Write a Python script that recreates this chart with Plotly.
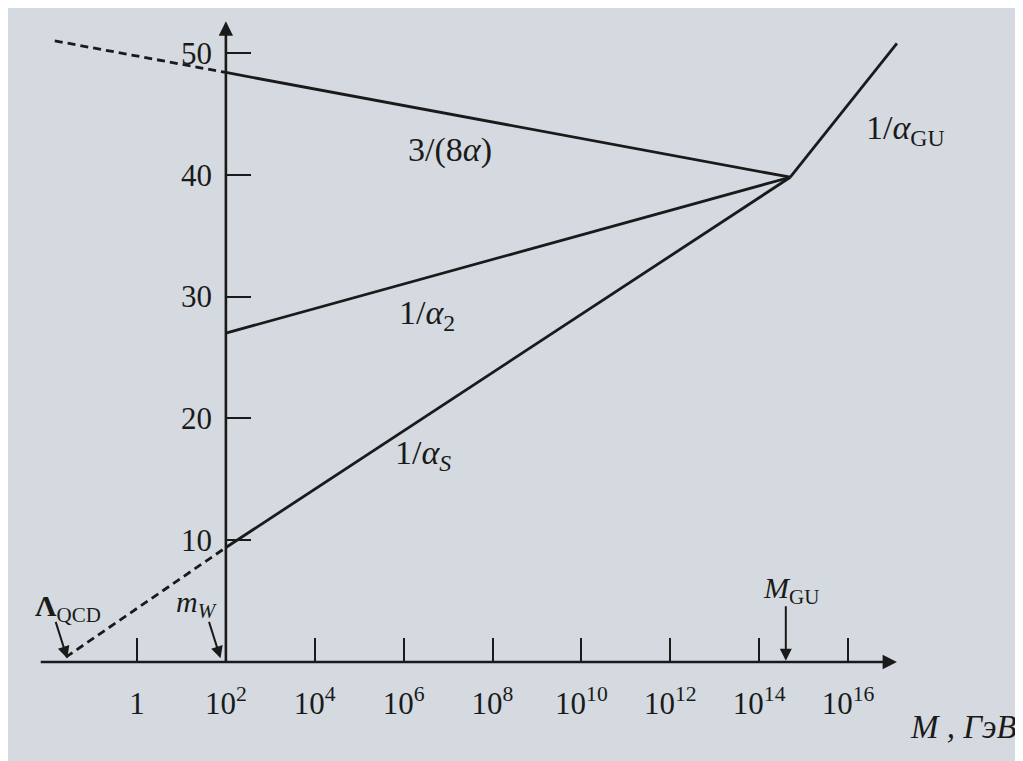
import plotly.graph_objects as go

# x is log10(M / GeV), y is the inverse coupling
x_ticks = [0, 2, 4, 6, 8, 10, 12, 14, 16]
x_tick_text = ["1", "10<sup>2</sup>", "10<sup>4</sup>", "10<sup>6</sup>", "10<sup>8</sup>",
               "10<sup>10</sup>", "10<sup>12</sup>", "10<sup>14</sup>", "10<sup>16</sup>"]
y_ticks = [10, 20, 30, 40, 50]

log_mw = 2.0
log_mgu = 14.7
log_lambda = -1.6
inv_alpha_gu_at_mgu = 39.8

# 3/(8 alpha)
em_x = [log_mw, log_mgu]
em_y = [48.4, inv_alpha_gu_at_mgu]
em_dash_x = [-1.85, log_mw]
em_dash_y = [51.0, 48.4]

# 1/alpha_2
a2_x = [log_mw, log_mgu]
a2_y = [27.0, inv_alpha_gu_at_mgu]

# 1/alpha_s
as_x = [log_mw, log_mgu]
as_y = [9.4, inv_alpha_gu_at_mgu]
as_dash_x = [log_lambda, log_mw]
as_dash_y = [0.4, 9.4]

# 1/alpha_GU above unification
gu_x = [log_mgu, 17.1]
gu_y = [inv_alpha_gu_at_mgu, 50.8]

ink = "#1a1a1a"
page = "#d4dae0"
serif = "Liberation Serif"

fig = go.Figure()

for xs, ys in [(em_x, em_y), (a2_x, a2_y), (as_x, as_y), (gu_x, gu_y)]:
    fig.add_trace(go.Scatter(x=xs, y=ys, mode="lines",
                             line=dict(color=ink, width=2.8), hoverinfo="skip"))

for xs, ys in [(em_dash_x, em_dash_y), (as_dash_x, as_dash_y)]:
    fig.add_trace(go.Scatter(x=xs, y=ys, mode="lines",
                             line=dict(color=ink, width=2.8, dash="8px,5px"),
                             hoverinfo="skip"))

W, H = 1040, 780
x0 = -129 / 44.44
x1 = x0 + W / 44.44
y1 = 654 / 12.18
y0 = y1 - H / 12.18

# axis lines with arrows
fig.add_annotation(x=17.1, y=0, ax=-2.2, ay=0, axref="x", ayref="y", text="",
                   showarrow=True, arrowhead=2, arrowsize=1.1, arrowwidth=2.6, arrowcolor=ink)
fig.add_annotation(x=log_mw, y=52.6, ax=log_mw, ay=-0.2, axref="x", ayref="y", text="",
                   showarrow=True, arrowhead=2, arrowsize=1.1, arrowwidth=2.6, arrowcolor=ink)

# curve labels
labels = [
    (7.04, 42.0, "3/(8<i>α</i>)"),
    (6.53, 28.5, "1/<i>α</i><sub>2</sub>"),
    (6.44, 17.0, "1/<i>α</i><sub><i>S</i></sub>"),
    (17.3, 43.7, "1/<i>α</i><sub>GU</sub>"),
]
for lx, ly, txt in labels:
    fig.add_annotation(x=lx, y=ly, text=txt, showarrow=False,
                       font=dict(family=serif, size=34, color=ink))

# markers of special scales
fig.add_annotation(x=log_mgu - 0.1, y=0.1, ax=0, ay=-56, text="", showarrow=True,
                   arrowhead=2, arrowsize=1.2, arrowwidth=2, arrowcolor=ink)
fig.add_annotation(x=14.72, y=5.9, text="<i>M</i><sub>GU</sub>", showarrow=False,
                   font=dict(family=serif, size=30, color=ink))

fig.add_annotation(x=log_mw - 0.12, y=0.3, ax=-12, ay=-38, text="", showarrow=True,
                   arrowhead=2, arrowsize=1.2, arrowwidth=2, arrowcolor=ink)
fig.add_annotation(x=1.36, y=4.8, text="<i>m<sub>W</sub></i>", showarrow=False,
                   font=dict(family=serif, size=30, color=ink))

fig.add_annotation(x=log_lambda + 0.03, y=0.3, ax=-12, ay=-38, text="", showarrow=True,
                   arrowhead=2, arrowsize=1.2, arrowwidth=2, arrowcolor=ink)
fig.add_annotation(x=-1.55, y=4.4, text="<b>Λ</b><sub>QCD</sub>", showarrow=False,
                   font=dict(family=serif, size=30, color=ink))

fig.add_annotation(x=18.6, y=-5.3, text="<i>M , ГэВ</i>", showarrow=False,
                   font=dict(family=serif, size=33, color=ink))

fig.update_layout(
    width=W, height=H,
    margin=dict(l=0, r=0, t=0, b=0),
    paper_bgcolor=page, plot_bgcolor=page,
    showlegend=False,
    xaxis=dict(range=[x0, x1], showgrid=False, zeroline=False, showline=False,
               anchor="free", position=(0 - y0) / (y1 - y0), side="bottom",
               tickmode="array", tickvals=x_ticks, ticktext=x_tick_text,
               ticks="inside", ticklen=24, tickwidth=2, tickcolor=ink,
               ticklabelstandoff=20,
               tickfont=dict(family=serif, size=31, color=ink)),
    yaxis=dict(range=[y0, y1], showgrid=False, zeroline=False, showline=False,
               anchor="free", position=(log_mw - x0) / (x1 - x0), side="left",
               tickmode="array", tickvals=y_ticks,
               ticks="inside", ticklen=24, tickwidth=2, tickcolor=ink,
               ticklabelstandoff=14,
               tickfont=dict(family=serif, size=31, color=ink)),
)

fig.write_html("out.html")
